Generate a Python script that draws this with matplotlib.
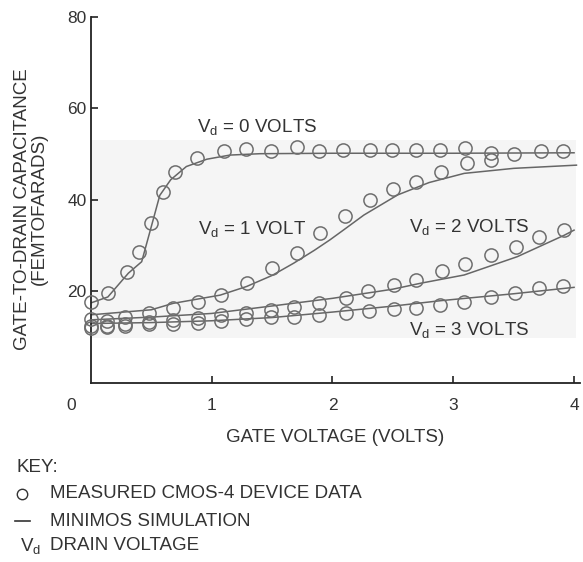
import matplotlib
matplotlib.use("Agg")
import matplotlib.pyplot as plt
from matplotlib.patches import Rectangle
from matplotlib.lines import Line2D

plt.rcParams['font.family'] = ['Liberation Sans', 'DejaVu Sans']
plt.rcParams['mathtext.fontset'] = 'custom'
plt.rcParams['mathtext.rm'] = 'Liberation Sans'
plt.rcParams['mathtext.it'] = 'Liberation Sans'

meas_x0 = [0.0, 0.14, 0.30, 0.40, 0.50, 0.60, 0.70, 0.88, 1.10, 1.28, 1.49, 1.71, 1.89,
           2.09, 2.31, 2.49, 2.69, 2.89, 3.10, 3.31, 3.50, 3.73, 3.91]
meas_y0 = [17.8, 19.6, 24.3, 28.7, 35.0, 41.8, 46.0, 49.1, 50.6, 51.1, 50.8, 51.5, 50.8,
           50.9, 50.9, 50.9, 50.9, 50.9, 51.3, 50.2, 50.0, 50.6, 50.8]

meas_x1 = [0.0, 0.13, 0.28, 0.48, 0.68, 0.89, 1.08, 1.29, 1.50, 1.71, 1.90,
           2.10, 2.31, 2.50, 2.69, 2.90, 3.11, 3.31]
meas_y1 = [14.0, 13.5, 14.5, 15.2, 16.3, 17.6, 19.2, 21.8, 25.2, 28.4, 32.7,
           36.4, 40.0, 42.3, 44.0, 46.0, 48.0, 48.7]

meas_x2 = [0.0, 0.13, 0.28, 0.48, 0.68, 0.89, 1.08, 1.28, 1.49, 1.68, 1.89,
           2.11, 2.29, 2.51, 2.69, 2.91, 3.10, 3.31, 3.52, 3.71, 3.92]
meas_y2 = [12.5, 12.5, 13.0, 13.4, 13.8, 14.1, 14.8, 15.2, 16.0, 16.7, 17.4,
           18.5, 20.0, 21.4, 22.5, 24.5, 26.1, 28.0, 29.8, 32.0, 33.4]

meas_x3 = [0.0, 0.13, 0.28, 0.48, 0.68, 0.89, 1.08, 1.28, 1.49, 1.68, 1.89,
           2.11, 2.30, 2.51, 2.69, 2.89, 3.09, 3.31, 3.51, 3.71, 3.91]
meas_y3 = [12.0, 12.2, 12.5, 12.8, 13.0, 13.2, 13.5, 14.0, 14.5, 14.5, 14.9,
           15.2, 15.8, 16.1, 16.3, 17.0, 17.8, 18.9, 19.6, 20.7, 21.1]

# MINIMOS simulation (lines)
sim_x0 = [0.0, 0.14, 0.31, 0.42, 0.50, 0.57, 0.66, 0.79, 0.96, 1.15, 1.40, 2.0, 3.0, 4.0]
sim_y0 = [17.5, 18.8, 24.0, 26.5, 34.2, 41.0, 44.4, 47.3, 48.9, 49.8, 50.1, 50.2, 50.2, 50.3]

sim_x1 = [0.0, 0.5, 0.68, 1.07, 1.29, 1.50, 1.68, 1.85, 1.98, 2.10, 2.26, 2.54, 2.80, 3.09, 3.50, 4.02]
sim_y1 = [14.9, 16.0, 17.4, 19.2, 21.1, 23.5, 26.2, 29.0, 31.3, 33.6, 36.7, 41.1, 43.8, 45.8, 46.9, 47.6]

sim_x2 = [0.0, 0.5, 1.0, 1.46, 2.0, 2.5, 2.73, 3.09, 3.53, 3.92, 4.0]
sim_y2 = [13.8, 14.4, 15.2, 16.7, 18.5, 20.5, 21.8, 23.6, 27.6, 32.3, 33.4]

sim_x3 = [0.0, 0.5, 1.0, 1.5, 2.0, 2.5, 2.9, 3.5, 4.0]
sim_y3 = [13.0, 13.2, 13.6, 14.3, 15.5, 16.8, 18.0, 19.5, 20.9]

xticks = [1, 2, 3, 4]
yticks = [20, 40, 60, 80]

txt = '#333333'
fs = 13.5
fig = plt.figure(figsize=(5.83, 5.62), dpi=100)
ax = fig.add_axes([0.156, 0.3185, 0.839, 0.6515])

# faint grey band from the scan
ax.add_patch(Rectangle((-0.02, 9.8), 4.04, 43.3, facecolor='#f5f5f5', edgecolor='none', zorder=0))

for sx, sy in [(sim_x0, sim_y0), (sim_x1, sim_y1), (sim_x2, sim_y2), (sim_x3, sim_y3)]:
    ax.plot(sx, sy, color='#666666', lw=1.1, zorder=2)
for mx, my in [(meas_x0, meas_y0), (meas_x1, meas_y1), (meas_x2, meas_y2), (meas_x3, meas_y3)]:
    ax.plot(mx, my, 'o', ms=9.5, mfc='none', mec='#6e6e6e', mew=1.1, zorder=3, clip_on=False)

ax.set_xlim(0, 4.05)
ax.set_ylim(0, 80)
for s in ['top', 'right']:
    ax.spines[s].set_visible(False)
for s in ['left', 'bottom']:
    ax.spines[s].set_color('#222222')
    ax.spines[s].set_linewidth(1.3)
ax.set_xticks(xticks)
ax.set_yticks(yticks)
ax.tick_params(direction='in', length=5, width=1.2, color='#222222', labelsize=12.5,
               labelcolor=txt, pad=11)
ax.tick_params(axis='y', pad=3)
ax.text(-0.16, -5.0, '0', fontsize=12.5, color=txt, ha='center', va='center', clip_on=False)

ax.set_xlabel('GATE VOLTAGE (VOLTS)', fontsize=fs, color=txt, labelpad=11)
ax.set_ylabel('GATE-TO-DRAIN CAPACITANCE\n(FEMTOFARADS)', fontsize=fs, color=txt,
              linespacing=1.0)
ax.yaxis.set_label_coords(-0.088, 0.475)

ax.text(0.88, 56.0, r'V$_{\rm d}$ = 0 VOLTS', fontsize=fs, color=txt, va='center')
ax.text(0.89, 33.6, r'V$_{\rm d}$ = 1 VOLT', fontsize=fs, color=txt, va='center')
ax.text(2.63, 34.0, r'V$_{\rm d}$ = 2 VOLTS', fontsize=fs, color=txt, va='center')
ax.text(2.63, 11.6, r'V$_{\rm d}$ = 3 VOLTS', fontsize=fs, color=txt, va='center')

# key
fig.text(17 / 583, 1 - 467 / 562, 'KEY:', fontsize=fs, color=txt, va='center')
fig.add_artist(Line2D([22 / 583], [1 - 494 / 562], marker='o', ms=7.5, mfc='none',
                      mec=txt, mew=1.0, transform=fig.transFigure))
fig.text(50 / 583, 1 - 494 / 562, 'MEASURED CMOS-4 DEVICE DATA', fontsize=fs, color=txt, va='center')
fig.add_artist(Line2D([15 / 583, 30 / 583], [1 - 521 / 562, 1 - 521 / 562], color=txt,
                      lw=1.2, transform=fig.transFigure))
fig.text(50 / 583, 1 - 521 / 562, 'MINIMOS SIMULATION', fontsize=fs, color=txt, va='center')
fig.text(20 / 583, 1 - 546 / 562, r'V$_{\rm d}$', fontsize=fs, color=txt, va='center')
fig.text(50 / 583, 1 - 546 / 562, 'DRAIN VOLTAGE', fontsize=fs, color=txt, va='center')

fig.savefig('out.png', dpi=100)
